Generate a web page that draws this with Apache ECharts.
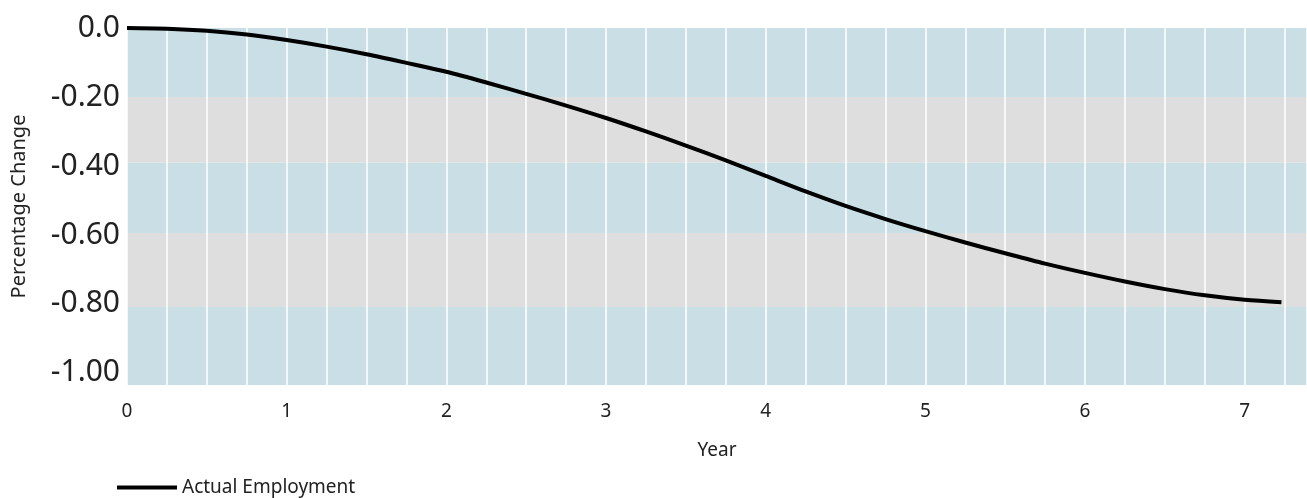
<!DOCTYPE html>
<html>
<head>
<meta charset="utf-8">
<script src="https://cdn.jsdelivr.net/npm/echarts@6/dist/echarts.min.js"></script>
<style>
html,body{margin:0;padding:0;background:#fff;}
#chart{width:1307px;height:498px;}
</style>
</head>
<body>
<div id="chart"></div>
<script>
// Years (quarterly) and percentage change of actual employment
const years = [0, 0.25, 0.5, 0.75, 1, 1.25, 1.5, 1.75, 2, 2.25, 2.5, 2.75, 3, 3.25, 3.5, 3.75, 4, 4.25, 4.5, 4.75, 5, 5.25, 5.5, 5.75, 6, 6.25, 6.5, 6.75, 7, 7.23];
const actualEmployment = [0, -0.002, -0.008, -0.019, -0.035, -0.054, -0.076, -0.101, -0.127, -0.158, -0.191, -0.225, -0.261, -0.300, -0.341, -0.384, -0.429, -0.474, -0.516, -0.554, -0.589, -0.622, -0.653, -0.683, -0.710, -0.735, -0.757, -0.775, -0.788, -0.795];
const yTickValues = [0, -0.2, -0.4, -0.6, -0.8, -1.0];
const yTickLabels = ['0.0', '-0.20', '-0.40', '-0.60', '-0.80', '-1.00'];
const xTickLabels = ['0', '1', '2', '3', '4', '5', '6', '7'];
const bandEdges = [0, -0.2, -0.391, -0.594, -0.809, -1.035];
const seriesName = 'Actual Employment';

const FONT = 'Noto Sans';
const bandColors = ['#c9dfe5', '#dedede'];
const bandAreas = [];
for (let i = 0; i < bandEdges.length - 1; i++) {
  bandAreas.push([
    { yAxis: bandEdges[i], itemStyle: { color: bandColors[i % 2] } },
    { yAxis: bandEdges[i + 1] }
  ]);
}
const lineData = years.map((x, i) => [x, actualEmployment[i]]);

const chart = echarts.init(document.getElementById('chart'), null, { renderer: 'canvas' });
chart.setOption({
  animation: false,
  backgroundColor: '#ffffff',
  textStyle: { fontFamily: FONT },
  grid: { left: 127, right: 0, top: 28, bottom: 113, containLabel: false },
  legend: {
    data: [seriesName],
    left: 112, top: 473,
    itemWidth: 60, itemHeight: 4, itemGap: 10,
    icon: 'rect',
    textStyle: { fontFamily: FONT, fontSize: 19, color: '#222' }
  },
  xAxis: {
    type: 'value', min: 0, max: 7.39, interval: 0.25, z: 3,
    name: 'Year', nameLocation: 'middle', nameGap: 56,
    nameTextStyle: { fontFamily: FONT, fontSize: 19, color: '#222' },
    axisLine: { show: false }, axisTick: { show: false },
    axisLabel: {
      customValues: xTickLabels.map(Number),
      formatter: v => xTickLabels[Math.round(v)] ?? '',
      margin: 17, fontFamily: FONT, fontSize: 19, color: '#222'
    },
    splitLine: { show: true, lineStyle: { color: '#ffffff', width: 1.5 } }
  },
  yAxis: {
    type: 'value', min: bandEdges[bandEdges.length - 1], max: 0,
    name: 'Percentage Change', nameLocation: 'middle', nameGap: 98, nameRotate: 90,
    nameTextStyle: { fontFamily: FONT, fontSize: 20, color: '#222' },
    axisLine: { show: false }, axisTick: { show: false },
    splitLine: { show: false },
    axisLabel: {
      customValues: yTickValues,
      formatter: v => { const i = yTickValues.findIndex(t => Math.abs(t - v) < 1e-6); return i >= 0 ? yTickLabels[i] : ''; },
      margin: 7, fontFamily: FONT, fontSize: 30, color: '#222'
    }
  },
  series: [
    {
      name: 'bands', type: 'line', data: lineData, z: 1, silent: true,
      showSymbol: false, lineStyle: { opacity: 0 },
      markArea: { silent: true, data: bandAreas }
    },
    {
      name: seriesName, type: 'line', data: lineData, z: 5,
      smooth: 0.3, showSymbol: false,
      lineStyle: { color: '#000', width: 4 },
      itemStyle: { color: '#000' }
    }
  ]
});
</script>
</body>
</html>
